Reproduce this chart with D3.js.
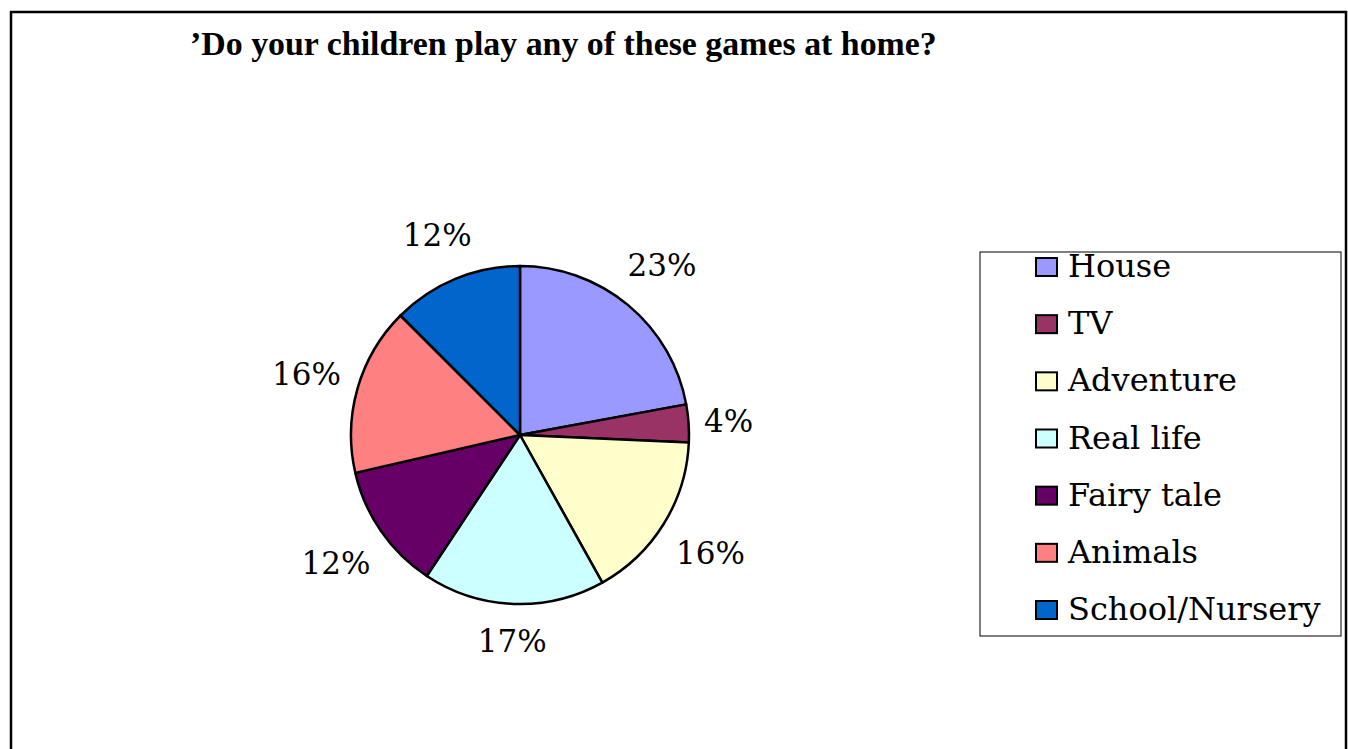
<!DOCTYPE html>
<html>
<head>
<meta charset="utf-8">
<script src="https://cdn.jsdelivr.net/npm/d3@7"></script>
<style>
  body { margin: 0; background: #fff; }
  svg { display: block; }
</style>
</head>
<body>
<div id="chart"></div>
<script>
// data
const categories = ["House", "TV", "Adventure", "Real life", "Fairy tale", "Animals", "School/Nursery"];
const values = [22.1, 3.6, 16.2, 17.4, 12.1, 16.1, 12.5];
const valueLabels = ["23%", "4%", "16%", "17%", "12%", "16%", "12%"];
const colors = ["#9999FF", "#993366", "#FFFFCC", "#CCFFFF", "#660066", "#FF8080", "#0066CC"];
const chartTitle = "\u2019Do your children play any of these games at home?";

const width = 1348, height = 749;
const font = "'DejaVu Serif', serif";

const svg = d3.select("#chart")
  .append("svg")
  .attr("width", width)
  .attr("height", height);

// outer frame (bottom edge runs off the page)
svg.append("rect")
  .attr("x", 11)
  .attr("y", 12)
  .attr("width", 1335)
  .attr("height", 800)
  .attr("fill", "none")
  .attr("stroke", "#000")
  .attr("stroke-width", 2.5);

// title, fitted to the width it takes in the reference
const titleText = svg.append("text")
  .attr("x", 190)
  .attr("y", 55)
  .style("font-family", "'Liberation Serif', serif")
  .style("font-weight", "bold")
  .style("font-size", "30px")
  .text(chartTitle);
const tLen = titleText.node().getComputedTextLength();
titleText.style("font-size", (30 * 747 / tLen) + "px");

// pie
const cx = 520, cy = 435, radius = 169;
const data = categories.map((c, i) => ({ name: c, value: values[i], label: valueLabels[i], color: colors[i] }));

const pie = d3.pie().sort(null).value(d => d.value);
const arc = d3.arc().innerRadius(0).outerRadius(radius);

const chart = svg.append("g").attr("transform", `translate(${cx},${cy})`);

chart.selectAll(".slice")
  .data(pie(data))
  .join("path")
  .attr("class", "slice")
  .attr("d", arc)
  .attr("fill", d => d.data.color)
  .attr("stroke", "#000")
  .attr("stroke-width", 2.5)
  .attr("stroke-linejoin", "round");

// data labels, pushed out so the text box sits just off the rim
const labels = chart.selectAll(".pct")
  .data(pie(data))
  .join("text")
  .attr("class", "pct")
  .attr("text-anchor", "middle")
  .attr("dy", "0.36em")
  .style("font-family", font)
  .style("font-size", "31px")
  .text(d => d.data.label);

labels.each(function (d) {
  const a = (d.startAngle + d.endAngle) / 2;
  const dx = Math.sin(a), dy = -Math.cos(a);
  const w = this.getComputedTextLength();
  const r = radius + 14 + Math.abs(dx) * w / 2 + Math.abs(dy) * 22;
  d3.select(this).attr("x", dx * r).attr("y", dy * r);
});

// legend
const legend = svg.append("g");
legend.append("rect")
  .attr("x", 980)
  .attr("y", 252)
  .attr("width", 361)
  .attr("height", 384)
  .attr("fill", "#fff")
  .attr("stroke", "#000")
  .attr("stroke-width", 1);

const rowY = d3.scalePoint().domain(categories).range([267, 610]);

const rows = legend.selectAll(".row")
  .data(data)
  .join("g")
  .attr("class", "row")
  .attr("transform", d => `translate(0,${rowY(d.name)})`);

rows.append("rect")
  .attr("x", 1036)
  .attr("y", -9)
  .attr("width", 21)
  .attr("height", 18)
  .attr("fill", d => d.color)
  .attr("stroke", "#000")
  .attr("stroke-width", 2);

rows.append("text")
  .attr("x", 1068)
  .attr("y", 10)
  .style("font-family", font)
  .style("font-size", "32px")
  .text(d => d.name);
</script>
</body>
</html>
